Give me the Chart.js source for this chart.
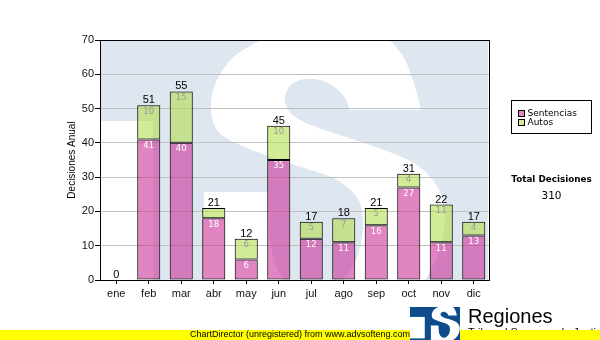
<!DOCTYPE html>
<html>
<head>
<meta charset="utf-8">
<title>Decisiones Anual</title>
<script src="https://cdn.jsdelivr.net/npm/chart.js@4/dist/chart.umd.min.js"></script>
<style>
  html, body { margin: 0; padding: 0; background: #ffffff; }
  #wrap { width: 600px; height: 340px; position: relative; }
  canvas { display: block; }
</style>
</head>
<body>
<div id="wrap"><canvas id="grafico" width="600" height="340"></canvas></div>
<script>
// Datos mensuales
const meses = ['ene', 'feb', 'mar', 'abr', 'may', 'jun', 'jul', 'ago', 'sep', 'oct', 'nov', 'dic'];
const sentencias = [0, 41, 40, 18, 6, 35, 12, 11, 16, 27, 11, 13];
const autos = [0, 10, 15, 3, 6, 10, 5, 7, 5, 4, 11, 4];
const nombresSeries = ['Sentencias', 'Autos'];
const tituloEjeY = 'Decisiones Anual';
const tituloTotal = 'Total Decisiones';
const ejeYMin = 0;
const ejeYMax = 70;
const ejeYPaso = 10;

// Estilos
const colorSentencias = 'rgba(204, 51, 153, 0.6)';
const colorAutos = 'rgba(180, 222, 80, 0.6)';
const azulClaro = '#dee7f0';
const azulLogo = '#0f4c8c';

// Contorno de la "S" del logotipo (coordenadas de diseño, área de trazado 100..490 x 40..280)
const sA = [421, 110], sB = [350, 110], sC = [204, 324], sD = [204, 192], sE = [268, 192];
const sCurva1 = [[343, 95], [326, 82], [304, 79], [289, 87], [285, 102], [294, 116], [316, 127],
  [352, 139], [392, 153], [421, 168], [438, 188], [445, 212], [442, 240], [432, 268], [415, 292],
  [388, 314], [348, 330], [300, 338], [255, 336], [222, 331]];
const sCurva2 = [[270, 240], [280, 274], [302, 292], [330, 290], [352, 268], [362, 238], [362, 212],
  [355, 195], [333, 178], [283, 161], [240, 145], [217, 130], [211, 105], [218, 78], [240, 52],
  [285, 32], [335, 25], [376, 32], [400, 52], [413, 80]];

// Curva suave (Catmull-Rom) desde pts[0] pasando por todos los puntos
function curvaSuave(ctx, pts, T) {
  for (let i = 0; i < pts.length - 1; i++) {
    const p0 = T(pts[Math.max(i - 1, 0)]);
    const p1 = T(pts[i]);
    const p2 = T(pts[i + 1]);
    const p3 = T(pts[Math.min(i + 2, pts.length - 1)]);
    const c1x = p1[0] + (p2[0] - p0[0]) / 6, c1y = p1[1] + (p2[1] - p0[1]) / 6;
    const c2x = p2[0] - (p3[0] - p1[0]) / 6, c2y = p2[1] - (p3[1] - p1[1]) / 6;
    ctx.bezierCurveTo(c1x, c1y, c2x, c2y, p2[0], p2[1]);
  }
}

function trazarS(ctx, T) {
  ctx.beginPath();
  let p = T(sA); ctx.moveTo(p[0], p[1]);
  p = T(sB); ctx.lineTo(p[0], p[1]);
  curvaSuave(ctx, [sB, ...sCurva1, sC], T);
  p = T(sD); ctx.lineTo(p[0], p[1]);
  p = T(sE); ctx.lineTo(p[0], p[1]);
  curvaSuave(ctx, [sE, ...sCurva2, sA], T);
  ctx.closePath();
}

// Marca de agua detrás del área de trazado
const marcaAgua = {
  id: 'marcaAgua',
  beforeDraw(chart) {
    const { ctx, chartArea: a } = chart;
    const T = (q) => [a.left + (q[0] - 100) * (a.width / 390), a.top + (q[1] - 40) * (a.height / 240)];
    ctx.save();
    ctx.beginPath();
    ctx.rect(a.left, a.top, a.width, a.height);
    ctx.clip();
    ctx.fillStyle = azulClaro;
    ctx.fillRect(a.left + 1, a.top + 1, a.width - 3, a.height - 1);
    ctx.fillStyle = '#ffffff';
    const t1 = T([100, 121]), t2 = T([153, 290]);
    ctx.fillRect(t1[0], t1[1], t2[0] - t1[0], t2[1] - t1[1]);
    trazarS(ctx, T);
    ctx.fill();
    ctx.restore();
  }
};

// Marco del área de trazado y etiquetas de valores
const etiquetas = {
  id: 'etiquetas',
  afterDatasetsDraw(chart) {
    const { ctx, chartArea: a, scales: { x, y } } = chart;
    ctx.save();
    ctx.strokeStyle = '#000000';
    ctx.lineWidth = 1;
    ctx.strokeRect(Math.round(a.left) + 0.5, Math.round(a.top) + 0.5,
      Math.round(a.width) - 1, Math.round(a.height));
    ctx.textAlign = 'center';
    meses.forEach((m, i) => {
      const cx = x.getPixelForValue(i);
      const s = sentencias[i], au = autos[i], tot = s + au;
      const y0 = y.getPixelForValue(0), y1 = y.getPixelForValue(s), y2 = y.getPixelForValue(tot);
      ctx.font = '8.5px "DejaVu Sans"';
      ctx.textBaseline = 'top';
      if (y0 - y1 >= 12) { ctx.fillStyle = '#ffffff'; ctx.fillText(String(s), cx, y1 + 2); }
      if (y1 - y2 >= 12) { ctx.fillStyle = '#9a9a9a'; ctx.fillText(String(au), cx, y2 + 2); }
      ctx.font = '11px "Liberation Sans"';
      ctx.textBaseline = 'alphabetic';
      ctx.fillStyle = '#000000';
      ctx.fillText(String(tot), cx, y2 - 2);
    });
    ctx.restore();
  }
};

// Leyenda, total, logotipo y franja inferior
const adornos = {
  id: 'adornos',
  afterDraw(chart) {
    const { ctx } = chart;
    ctx.save();
    // Leyenda
    ctx.fillStyle = '#ffffff';
    ctx.fillRect(511, 100, 81, 33);
    ctx.strokeStyle = '#000000';
    ctx.lineWidth = 1;
    ctx.strokeRect(511.5, 100.5, 80, 33);
    const colores = [colorSentencias, colorAutos];
    ctx.font = '9px "DejaVu Sans"';
    ctx.textAlign = 'left';
    ctx.textBaseline = 'middle';
    nombresSeries.forEach((n, k) => {
      const yy = 110 + k * 9;
      ctx.fillStyle = colores[k];
      ctx.fillRect(518, yy, 7, 7);
      ctx.strokeStyle = '#000000';
      ctx.strokeRect(518.5, yy + 0.5, 6, 6);
      ctx.fillStyle = '#000000';
      ctx.fillText(n, 527.5, yy + 3.5);
    });
    // Total
    const total = sentencias.reduce((t, v) => t + v, 0) + autos.reduce((t, v) => t + v, 0);
    ctx.textAlign = 'center';
    ctx.font = 'bold 8.8px "DejaVu Sans"';
    ctx.fillText(tituloTotal, 551.5, 179.5);
    ctx.font = '10.5px "DejaVu Sans"';
    ctx.fillText(String(total), 551.5, 196.5);
    // Texto del pie (parcialmente tapado por la franja)
    ctx.textAlign = 'left';
    ctx.textBaseline = 'top';
    ctx.font = '11px "Liberation Sans"';
    ctx.fillText('Tribunal Supremo de Justicia', 468, 327);
    // Franja amarilla
    ctx.fillStyle = '#ffff00';
    ctx.fillRect(0, 330, 600, 10);
    ctx.fillStyle = '#000000';
    ctx.font = '9px "Liberation Sans"';
    ctx.textAlign = 'center';
    ctx.textBaseline = 'middle';
    ctx.fillText('ChartDirector (unregistered) from www.advsofteng.com', 300, 335);
    // Logotipo
    ctx.beginPath();
    ctx.rect(410, 307, 50, 33);
    ctx.clip();
    ctx.fillStyle = azulLogo;
    ctx.fillRect(410, 307, 50, 33);
    const T = (q) => [431 + (q[0] - 205) * 0.12, 306 + (q[1] - 30) * 0.12];
    ctx.fillStyle = '#ffffff';
    const t1 = T([30, 121]), t2 = T([153, 300]);
    ctx.fillRect(t1[0], t1[1], t2[0] - t1[0], t2[1] - t1[1]);
    trazarS(ctx, T);
    ctx.fill();
    ctx.restore();
    ctx.save();
    ctx.fillStyle = '#000000';
    ctx.font = '20px "Liberation Sans"';
    ctx.textAlign = 'left';
    ctx.textBaseline = 'alphabetic';
    ctx.fillText('Regiones', 468, 323);
    ctx.restore();
  }
};

Chart.defaults.font.family = '"Liberation Sans", Arial, sans-serif';
Chart.defaults.color = '#222222';

new Chart(document.getElementById('grafico'), {
  type: 'bar',
  data: {
    labels: meses,
    datasets: [
      { label: nombresSeries[0], data: sentencias, backgroundColor: colorSentencias },
      { label: nombresSeries[1], data: autos, backgroundColor: colorAutos }
    ]
  },
  options: {
    responsive: false,
    devicePixelRatio: 1,
    animation: false,
    events: [],
    layout: { padding: { left: 0, right: 110, top: 40, bottom: 0 } },
    datasets: {
      bar: {
        borderColor: '#000000',
        borderWidth: 1,
        borderSkipped: false,
        barPercentage: 0.71,
        categoryPercentage: 1
      }
    },
    plugins: { legend: { display: false }, tooltip: { enabled: false }, title: { display: false } },
    scales: {
      x: {
        stacked: true,
        border: { display: false },
        grid: { drawOnChartArea: false, drawTicks: true, tickLength: 4, tickColor: '#000000', offset: false },
        ticks: { font: { size: 11 }, color: '#111111', padding: 3 },
        afterFit(axis) { axis.height = 60; }
      },
      y: {
        stacked: true,
        min: ejeYMin,
        max: ejeYMax,
        border: { display: false },
        grid: { color: '#c0c0c0', lineWidth: 1, drawTicks: true, tickLength: 5, tickColor: '#000000' },
        ticks: { stepSize: ejeYPaso, font: { size: 11 }, color: '#111111', padding: 1 },
        title: { display: true, text: tituloEjeY, font: { size: 10 }, color: '#000000', padding: { top: 66, bottom: 0 } },
        afterFit(axis) { axis.width = 100; }
      }
    }
  },
  plugins: [marcaAgua, etiquetas, adornos]
});
</script>
</body>
</html>
